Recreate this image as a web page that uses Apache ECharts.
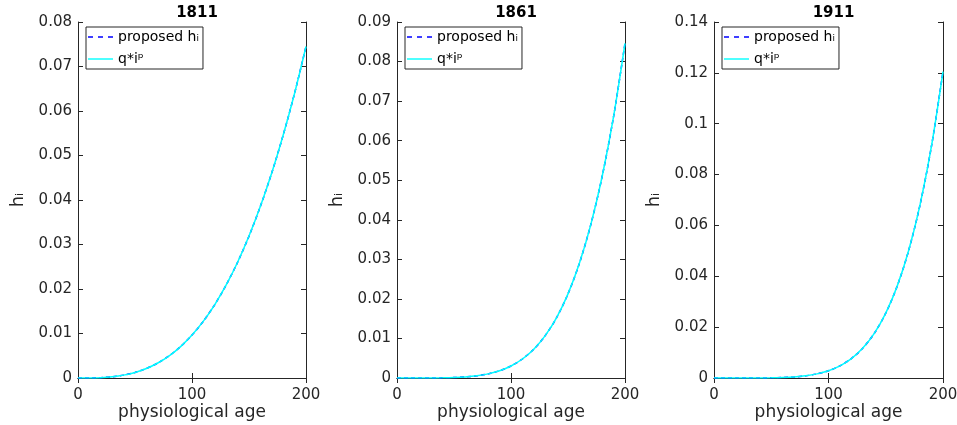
<!DOCTYPE html>
<html>
<head>
<meta charset="utf-8">
<script src="https://cdn.jsdelivr.net/npm/echarts@6/dist/echarts.min.js"></script>
<style>html,body{margin:0;padding:0;background:#fff;}#c{width:957px;height:425px;}</style>
</head>
<body>
<div id="c"></div>
<script>
// physiological age sample points
var ages = [0,10,20,30,40,50,60,70,80,90,100,110,120,130,140,150,160,170,180,190,200];
var titles = ['1811','1861','1911'];
// values (proposed h_i and q*i^p coincide)
var h1811 = [0,0.0000108,0.000083,0.000277,0.000646,0.00125,0.00214,0.00337,0.00499,0.00706,0.00964,0.01277,0.01651,0.02091,0.02602,0.03189,0.03858,0.04612,0.0546,0.0640,0.0745];
var h1861 = [0,0,0.0000013,0.0000094,0.0000373,0.000109,0.000262,0.000548,0.00104,0.00183,0.00304,0.00480,0.00728,0.01070,0.01527,0.02127,0.02899,0.03878,0.05100,0.06614,0.0846];
var h1911 = [0,0,0,0.0000043,0.00002,0.000067,0.000181,0.000416,0.00085,0.00162,0.00285,0.00477,0.00764,0.01177,0.01756,0.02549,0.03613,0.05011,0.06820,0.09135,0.1205];
var proposed = [h1811, h1861, h1911];
var fitted = [h1811, h1861, h1911];
var yMax = [0.08, 0.09, 0.14];
var yStep = [0.01, 0.01, 0.02];
var xTicks = [0, 100, 200];
var legendNames = ['proposed h\u1D62', 'q*i\u1D56'];

var FONT = 'DejaVu Sans';
var AX = '#262626';
var grids = [{left:78,width:228},{left:397,width:228},{left:714,width:229}];
var dashIcon = 'path://M0,0h5v1.4h-5z M10,0h5v1.4h-5z M20,0h5v1.4h-5z';
var solidIcon = 'path://M0,0h25v1.4h-25z';

var option = {
  animation:false,
  backgroundColor:'#ffffff',
  textStyle:{fontFamily:FONT},
  title:[], grid:[], xAxis:[], yAxis:[], series:[], legend:[]
};
for (var k=0;k<3;k++){
  var g = grids[k];
  option.grid.push({left:g.left, width:g.width, top:22, height:356, containLabel:false, outerBoundsMode:'none'});
  option.title.push({text:titles[k], left:g.left+g.width/2, top:1, textAlign:'center',
    textStyle:{fontFamily:FONT,fontSize:15,fontWeight:'bold',color:'#000'}});
  var base = {type:'value', gridIndex:k, min:xTicks[0], max:xTicks[xTicks.length-1], interval:100,
    axisLine:{show:true,lineStyle:{color:AX,width:1}},
    axisTick:{show:true,inside:true,length:5,lineStyle:{color:AX}},
    splitLine:{show:false}};
  option.xAxis.push(Object.assign({}, base, {position:'bottom',
    axisLabel:{fontFamily:FONT,fontSize:15,color:'#262626',margin:10},
    name:'physiological age', nameLocation:'middle', nameGap:26, nameMoveOverlap:false,
    nameTextStyle:{fontFamily:FONT,fontSize:17,color:'#262626'}}));
  option.xAxis.push(Object.assign({}, base, {position:'top', axisLabel:{show:false}}));
  var ybase = {type:'value', gridIndex:k, min:0, max:yMax[k], interval:yStep[k],
    axisLine:{show:true,onZero:false,lineStyle:{color:AX,width:1}},
    axisTick:{show:true,inside:true,length:5,lineStyle:{color:AX}},
    splitLine:{show:false}};
  option.yAxis.push(Object.assign({}, ybase, {position:'left',
    axisLabel:{fontFamily:FONT,fontSize:15,color:'#262626',margin:6},
    name:'h\u1D62', nameLocation:'middle', nameGap:51, nameRotate:90, nameMoveOverlap:false,
    nameTextStyle:{fontFamily:FONT,fontSize:18,color:'#262626'}}));
  option.yAxis.push(Object.assign({}, ybase, {position:'right', axisLabel:{show:false}}));
  var d1 = ages.map(function(a,i){return [a, proposed[k][i]];});
  var d2 = ages.map(function(a,i){return [a, fitted[k][i]];});
  option.series.push({type:'line', name:legendNames[0], xAxisIndex:2*k, yAxisIndex:2*k, data:d1,
    showSymbol:false, symbol:'none', smooth:0.3, lineStyle:{color:'#0000ff',width:1.5,type:[4,3]}, itemStyle:{color:'#0000ff'}, z:2});
  option.series.push({type:'line', name:legendNames[1], xAxisIndex:2*k, yAxisIndex:2*k, data:d2,
    showSymbol:false, symbol:'none', smooth:0.3, lineStyle:{color:'#00ffff',width:1.5}, itemStyle:{color:'#00ffff'}, z:3});
  option.legend.push({
    data:[{name:legendNames[0], icon:dashIcon}, {name:legendNames[1], icon:solidIcon}],
    orient:'vertical', left:g.left+8, top:27,
    itemWidth:25, itemHeight:1.4, itemGap:8, padding:[3,4,3,2], symbolKeepAspect:false,
    borderColor:'#262626', borderWidth:1, borderRadius:0, backgroundColor:'#fff',
    selectedMode:false,
    textStyle:{fontFamily:FONT,fontSize:14,color:'#000',padding:[0,0,0,0]}});
}
var chart = echarts.init(document.getElementById('c'), null, {renderer:'canvas'});
chart.setOption(option);
</script>
</body>
</html>
